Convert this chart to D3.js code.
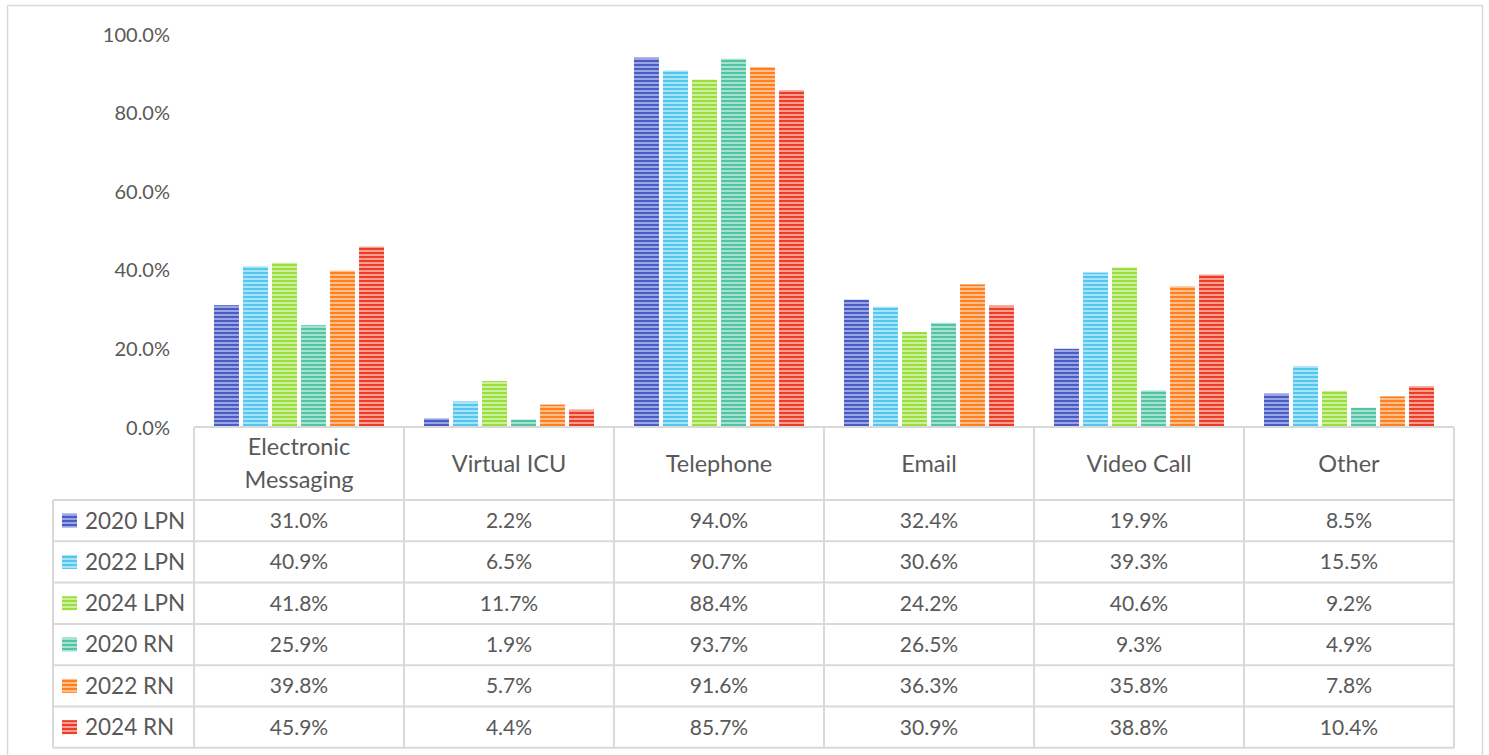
<!DOCTYPE html>
<html>
<head>
<meta charset="utf-8">
<script src="https://cdn.jsdelivr.net/npm/d3@7"></script>
<style>
  body { margin: 0; background: #fff; }
  svg text { font-family: Lato, "Open Sans", sans-serif; fill: #595959; }
</style>
</head>
<body>
<script>
// data

const categories = ["Electronic Messaging", "Virtual ICU", "Telephone", "Email", "Video Call", "Other"];
const categoryLines = [["Electronic", "Messaging"], ["Virtual ICU"], ["Telephone"], ["Email"], ["Video Call"], ["Other"]];
const seriesNames = ["2020 LPN", "2022 LPN", "2024 LPN", "2020 RN", "2022 RN", "2024 RN"];
const lpn2020 = [31.0, 2.2, 94.0, 32.4, 19.9, 8.5];
const lpn2022 = [40.9, 6.5, 90.7, 30.6, 39.3, 15.5];
const lpn2024 = [41.8, 11.7, 88.4, 24.2, 40.6, 9.2];
const rn2020 = [25.9, 1.9, 93.7, 26.5, 9.3, 4.9];
const rn2022 = [39.8, 5.7, 91.6, 36.3, 35.8, 7.8];
const rn2024 = [45.9, 4.4, 85.7, 30.9, 38.8, 10.4];
const yTicks = [0, 20, 40, 60, 80, 100];

const seriesValues = [lpn2020, lpn2022, lpn2024, rn2020, rn2022, rn2024];

// colors: dark stripe, light stripe

const dark = ["#4a5cc4", "#52c6ee", "#9ade3c", "#52c4a4", "#ff7f1e", "#ee3b28"];
const light = ["#9aa6e4", "#a8e4f8", "#cdf0a0", "#a6e2d0", "#ffbf8c", "#f8a090"];

// layout

const W = 1489, H = 755;
const plot = { left: 194, right: 1454, top: 34, bottom: 427 };
const legendLeft = 53;
const headerBottom = 500;
const rowH = 41.3;

const svg = d3.select("body").append("svg")
  .attr("width", W)
  .attr("height", H);

// outer frame
svg.append("rect")
  .attr("x", 7.5).attr("y", 5.5)
  .attr("width", 1475).attr("height", 760)
  .attr("fill", "none")
  .attr("stroke", "#d9d9d9")
  .attr("stroke-width", 1.5);

// stripe patterns
const defs = svg.append("defs");
dark.forEach((c, i) => {
  const p = defs.append("pattern")
    .attr("id", "stripe" + i)
    .attr("patternUnits", "userSpaceOnUse")
    .attr("width", 8).attr("height", 4);
  p.append("rect").attr("width", 8).attr("height", 4).attr("fill", light[i]);
  p.append("rect").attr("width", 8).attr("height", 2).attr("fill", c);
});

// scales

const x0 = d3.scaleBand()
  .domain(categories)
  .range([plot.left, plot.right]);

const x1 = d3.scaleBand()
  .domain(seriesNames)
  .range([20, x0.bandwidth() - 20])
  .paddingInner(0.14);

const y = d3.scaleLinear()
  .domain([0, 100])
  .range([plot.bottom, plot.top]);

// y axis

const yAxis = d3.axisLeft(y)
  .tickValues(yTicks)
  .tickSize(0)
  .tickPadding(0)
  .tickFormat(d => d.toFixed(1) + "%");

const yg = svg.append("g")
  .attr("transform", "translate(170,0)")
  .call(yAxis);
yg.select(".domain").remove();
yg.selectAll("text")
  .attr("font-size", 20)
  .attr("dy", "0.35em");

// bars

const groups = svg.selectAll("g.series")
  .data(seriesValues)
  .enter()
  .append("g")
  .attr("class", "series");

groups.selectAll("rect")
  .data((vals, si) => vals.map((v, ci) => ({ v: v, si: si, ci: ci })))
  .enter()
  .append("rect")
  .attr("x", d => x0(categories[d.ci]) + x1(seriesNames[d.si]))
  .attr("y", d => y(d.v))
  .attr("width", x1.bandwidth())
  .attr("height", d => y(0) - y(d.v))
  .attr("fill", d => "url(#stripe" + d.si + ")");

// data table

const lineColor = "#d9d9d9";
const tableBottom = headerBottom + rowH * seriesNames.length;
const table = svg.append("g");

// horizontal lines
table.append("line")
  .attr("x1", plot.left).attr("x2", plot.right)
  .attr("y1", plot.bottom).attr("y2", plot.bottom)
  .attr("stroke", lineColor).attr("stroke-width", 2);

d3.range(seriesNames.length + 1).forEach(i => {
  table.append("line")
    .attr("x1", legendLeft).attr("x2", plot.right)
    .attr("y1", headerBottom + i * rowH).attr("y2", headerBottom + i * rowH)
    .attr("stroke", lineColor).attr("stroke-width", 2);
});

// vertical lines
table.append("line")
  .attr("x1", legendLeft).attr("x2", legendLeft)
  .attr("y1", headerBottom).attr("y2", tableBottom)
  .attr("stroke", lineColor).attr("stroke-width", 2);

categories.concat(["end"]).forEach((c, i) => {
  const xx = plot.left + i * x0.bandwidth();
  table.append("line")
    .attr("x1", xx).attr("x2", xx)
    .attr("y1", plot.bottom).attr("y2", tableBottom)
    .attr("stroke", lineColor).attr("stroke-width", 2);
});

// header labels
categories.forEach((c, i) => {
  const lines = categoryLines[i];
  const cx = x0(c) + x0.bandwidth() / 2;
  const cy = (plot.bottom + headerBottom) / 2;
  lines.forEach((t, j) => {
    table.append("text")
      .attr("x", cx)
      .attr("y", cy + (j - (lines.length - 1) / 2) * 33)
      .attr("dy", "0.35em")
      .attr("text-anchor", "middle")
      .attr("font-size", 23.5)
      .text(t);
  });
});

// rows
seriesNames.forEach((s, si) => {
  const cy = headerBottom + si * rowH + rowH / 2;
  table.append("rect")
    .attr("x", 62).attr("y", cy - 7)
    .attr("width", 15).attr("height", 14)
    .attr("fill", "url(#stripe" + si + ")");
  table.append("text")
    .attr("x", 85).attr("y", cy)
    .attr("dy", "0.35em")
    .attr("font-size", 22.5)
    .text(s);
  seriesValues[si].forEach((v, ci) => {
    table.append("text")
      .attr("x", x0(categories[ci]) + x0.bandwidth() / 2)
      .attr("y", cy)
      .attr("dy", "0.35em")
      .attr("text-anchor", "middle")
      .attr("font-size", 21)
      .text(v.toFixed(1) + "%");
  });
});
</script>
</body>
</html>
